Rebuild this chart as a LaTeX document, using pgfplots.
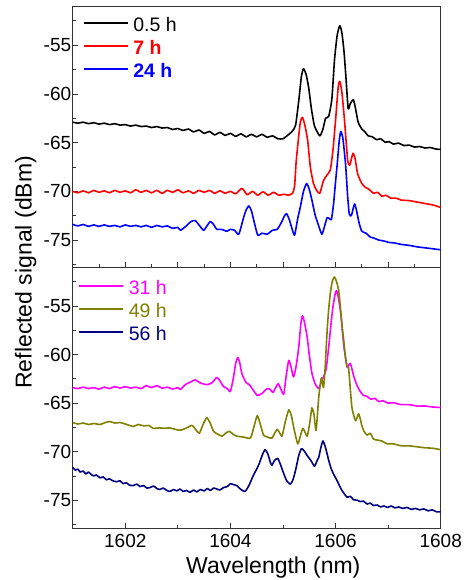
\documentclass[border=0pt]{standalone}
\usepackage{fontspec}
\setmainfont{Liberation Sans}
\usepackage{pgfplots}
\pgfplotsset{compat=1.18}
\definecolor{c31}{RGB}{255,0,255}
\definecolor{c49}{RGB}{128,128,0}
\definecolor{c56}{RGB}{0,0,128}

\pgfplotsset{
  panel/.style={
    scale only axis, width=368pt, height=261pt,
    xmin=1601, xmax=1608,
    axis line style={line width=0.9pt, black!80},
    every tick/.style={line width=0.8pt, black!80},
    tick align=inside,
    xtick pos=bottom, ytick pos=left,
    major tick length=5pt, minor tick length=3pt,
    ytick={-75,-70,-65,-60,-55},
    yticklabels={-75,-70,-65,-60,-55},
    minor ytick={-77.5,-72.5,...,-52.5},
    ticklabel style={font=\fontsize{19}{22}\selectfont},
    yticklabel style={xshift=2pt},
    xticklabel style={yshift=-2pt},
    legend cell align=left,
    legend style={at={(rel axis cs:0,1)}, anchor=north west, draw=none, fill=none,
      font=\fontsize{19.5}{22}\selectfont, row sep=5pt,
      nodes={inner sep=0pt, text height=14pt, text depth=4pt},
      /tikz/every odd column/.append style={column sep=5pt}},
    legend image code/.code={\draw[##1, line width=1.5pt, sharp plot] (0pt,3.5pt) -- (44pt,3.5pt);},
    every axis plot/.append style={line width=1.6pt, line join=round, smooth, tension=0.35},
  }
}

\begin{document}
\begin{tikzpicture}
\useasboundingbox (-72.7pt,-51.7pt) rectangle (390.3pt,528.3pt);

% upper panel: 0.5 h, 7 h, 24 h
\begin{axis}[panel, name=top, at={(0pt,261pt)}, anchor=south west,
  ymin=-77.8, ymax=-51,
  xtick={1601,...,1608}, minor xtick={1601.5,1602.5,...,1607.5}, xticklabels={},
  legend style={xshift=7pt, yshift=-9pt}]
\addplot[black] coordinates {
(1601.00,-62.9) (1601.10,-63.0) (1601.20,-62.9) (1601.30,-63.05) (1601.40,-62.95)
(1601.50,-63.1) (1601.60,-63.0) (1601.70,-63.15) (1601.80,-63.05) (1601.90,-63.2)
(1602.00,-63.15) (1602.10,-63.3) (1602.20,-63.2) (1602.30,-63.35) (1602.40,-63.3)
(1602.50,-63.45) (1602.60,-63.35) (1602.70,-63.5) (1602.80,-63.45) (1602.90,-63.65)
(1603.00,-63.55) (1603.10,-63.75) (1603.20,-63.6) (1603.30,-63.9) (1603.40,-63.7)
(1603.50,-64.05) (1603.60,-63.85) (1603.70,-64.2) (1603.80,-63.95) (1603.90,-64.25)
(1604.00,-64.05) (1604.10,-64.35) (1604.20,-64.1) (1604.30,-64.4) (1604.40,-64.15)
(1604.50,-64.4) (1604.60,-64.15) (1604.70,-64.45) (1604.80,-64.3) (1604.90,-64.6)
(1605.00,-64.6) (1605.10,-64.2) (1605.18,-63.8) (1605.24,-63.2) (1605.30,-60.7)
(1605.35,-58.2) (1605.39,-57.4) (1605.44,-58.0) (1605.49,-59.4) (1605.54,-61.5)
(1605.60,-63.3) (1605.70,-64.3) (1605.76,-63.6) (1605.81,-62.5) (1605.87,-62.3)
(1605.93,-60.5) (1605.98,-56.5) (1606.03,-54.0) (1606.08,-53.0) (1606.12,-53.7)
(1606.16,-55.6) (1606.20,-58.5) (1606.24,-61.5) (1606.28,-61.0) (1606.34,-60.6)
(1606.38,-61.5) (1606.43,-62.9) (1606.50,-63.6) (1606.56,-63.9) (1606.62,-64.3)
(1606.70,-64.4) (1606.78,-64.7) (1606.86,-64.6) (1606.94,-64.95) (1607.02,-64.9)
(1607.10,-65.15) (1607.20,-65.05) (1607.30,-65.3) (1607.40,-65.25) (1607.50,-65.45)
(1607.60,-65.4) (1607.70,-65.55) (1607.80,-65.5) (1607.90,-65.65) (1608.00,-65.7)
};
\addlegendentry{0.5 h}
\addplot[red] coordinates {
(1601.00,-70.0) (1601.10,-70.15) (1601.20,-69.95) (1601.30,-70.15) (1601.40,-69.9)
(1601.50,-70.1) (1601.60,-69.95) (1601.70,-70.15) (1601.80,-69.9) (1601.90,-70.1)
(1602.00,-69.95) (1602.10,-70.15) (1602.20,-69.85) (1602.30,-70.1) (1602.40,-69.9)
(1602.50,-70.15) (1602.60,-69.9) (1602.70,-70.2) (1602.80,-69.9) (1602.90,-70.1)
(1603.00,-69.85) (1603.10,-70.15) (1603.20,-69.95) (1603.30,-70.2) (1603.40,-69.9)
(1603.50,-70.1) (1603.60,-69.9) (1603.70,-70.2) (1603.80,-69.95) (1603.90,-70.2)
(1604.00,-70.0) (1604.10,-70.25) (1604.22,-69.7) (1604.32,-70.35) (1604.42,-70.0)
(1604.52,-70.4) (1604.62,-70.05) (1604.72,-70.4) (1604.82,-70.1) (1604.92,-70.4)
(1605.02,-70.3) (1605.10,-70.4) (1605.18,-70.2) (1605.22,-69.5) (1605.25,-67.0)
(1605.29,-64.8) (1605.33,-62.9) (1605.37,-62.4) (1605.42,-63.3) (1605.47,-64.8)
(1605.52,-67.5) (1605.58,-69.2) (1605.64,-69.9) (1605.70,-70.2) (1605.77,-68.9)
(1605.84,-68.3) (1605.90,-67.8) (1605.95,-65.8) (1606.00,-62.7) (1606.05,-59.3)
(1606.08,-58.7) (1606.12,-59.8) (1606.17,-62.7) (1606.23,-66.8) (1606.27,-67.3)
(1606.33,-66.1) (1606.37,-66.6) (1606.42,-68.2) (1606.50,-69.2) (1606.57,-69.6)
(1606.64,-69.8) (1606.72,-70.2) (1606.80,-70.1) (1606.88,-70.5) (1606.96,-70.4)
(1607.05,-70.7) (1607.15,-70.7) (1607.25,-70.9) (1607.40,-70.95) (1607.55,-71.1)
(1607.70,-71.25) (1607.85,-71.4) (1608.00,-71.65)
};
\addlegendentry{\textcolor{red}{\textbf{7 h}}}
\addplot[blue] coordinates {
(1601.00,-73.4) (1601.10,-73.55) (1601.20,-73.4) (1601.30,-73.6) (1601.40,-73.45)
(1601.50,-73.6) (1601.60,-73.45) (1601.70,-73.6) (1601.80,-73.5) (1601.90,-73.65)
(1602.00,-73.45) (1602.10,-73.6) (1602.20,-73.5) (1602.30,-73.65) (1602.40,-73.5)
(1602.50,-73.7) (1602.60,-73.5) (1602.70,-73.65) (1602.80,-73.55) (1602.90,-73.8)
(1603.00,-73.7) (1603.05,-74.0) (1603.15,-73.6) (1603.25,-73.1) (1603.33,-73.0)
(1603.41,-73.5) (1603.49,-74.0) (1603.56,-73.5) (1603.62,-73.1) (1603.68,-73.4)
(1603.74,-73.9) (1603.83,-73.9) (1603.93,-74.1) (1604.00,-73.9) (1604.08,-74.0)
(1604.16,-74.4) (1604.25,-72.7) (1604.30,-71.9) (1604.35,-71.5) (1604.40,-72.0)
(1604.45,-73.1) (1604.52,-74.5) (1604.60,-74.3) (1604.70,-74.4) (1604.80,-74.0)
(1604.89,-73.9) (1604.97,-73.2) (1605.03,-72.5) (1605.07,-72.3) (1605.12,-72.9)
(1605.17,-73.8) (1605.22,-74.5) (1605.28,-72.8) (1605.33,-71.6) (1605.39,-70.0)
(1605.45,-69.2) (1605.50,-69.8) (1605.55,-70.9) (1605.61,-72.4) (1605.67,-73.4)
(1605.74,-74.4) (1605.80,-73.4) (1605.84,-72.7) (1605.88,-72.8) (1605.92,-72.9)
(1605.96,-71.4) (1606.00,-69.0) (1606.03,-67.3) (1606.07,-64.8) (1606.10,-63.85)
(1606.14,-64.6) (1606.19,-67.2) (1606.23,-70.5) (1606.26,-72.3) (1606.30,-72.5)
(1606.36,-71.3) (1606.40,-72.0) (1606.45,-73.3) (1606.50,-74.1) (1606.58,-74.3)
(1606.66,-74.7) (1606.73,-74.8) (1606.82,-75.0) (1606.92,-75.1) (1607.02,-75.25)
(1607.12,-75.3) (1607.25,-75.45) (1607.40,-75.55) (1607.55,-75.7) (1607.70,-75.8)
(1607.85,-75.9) (1608.00,-76.0)
};
\addlegendentry{\textcolor{blue}{\textbf{24 h}}}
\end{axis}

% lower panel: 31 h, 49 h, 56 h
\begin{axis}[panel, name=bot, at={(0pt,0pt)}, anchor=south west,
  ymin=-77.9, ymax=-51,
  xtick={1602,1604,1606,1608}, xticklabels={1602,1604,1606,1608},
  minor xtick={1601,1603,1605,1607},
  legend style={xshift=2.5pt, yshift=-11pt}]
\addplot[c31] coordinates {
(1601.00,-63.4) (1601.10,-63.5) (1601.20,-63.35) (1601.30,-63.5) (1601.40,-63.4)
(1601.50,-63.55) (1601.60,-63.35) (1601.70,-63.5) (1601.80,-63.3) (1601.90,-63.45)
(1602.00,-63.3) (1602.10,-63.45) (1602.20,-63.35) (1602.30,-63.5) (1602.40,-63.2)
(1602.50,-63.4) (1602.60,-63.2) (1602.70,-63.45) (1602.80,-63.35) (1602.90,-63.55)
(1603.00,-63.4) (1603.05,-63.6) (1603.14,-63.1) (1603.25,-62.8) (1603.33,-62.6)
(1603.42,-62.9) (1603.55,-63.1) (1603.65,-62.9) (1603.74,-62.35) (1603.80,-62.7)
(1603.87,-63.3) (1603.94,-63.5) (1604.00,-63.8) (1604.06,-62.3) (1604.10,-60.9)
(1604.14,-60.3) (1604.18,-60.9) (1604.22,-62.0) (1604.30,-62.9) (1604.36,-63.1)
(1604.44,-63.7) (1604.51,-64.2) (1604.60,-64.0) (1604.70,-63.5) (1604.76,-63.6)
(1604.81,-63.9) (1604.91,-63.0) (1605.01,-64.1) (1605.06,-62.2) (1605.11,-60.6)
(1605.15,-61.2) (1605.20,-62.3) (1605.25,-61.2) (1605.30,-59.2) (1605.34,-56.8)
(1605.37,-56.0) (1605.41,-56.7) (1605.46,-58.2) (1605.50,-60.0) (1605.55,-61.9)
(1605.61,-63.0) (1605.68,-63.5) (1605.73,-62.8) (1605.77,-62.3) (1605.82,-61.5)
(1605.87,-59.2) (1605.91,-57.0) (1605.95,-55.1) (1605.99,-53.8) (1606.02,-53.4)
(1606.06,-54.3) (1606.10,-55.8) (1606.13,-57.6) (1606.16,-59.2) (1606.22,-61.3)
(1606.28,-60.9) (1606.35,-62.3) (1606.41,-63.2) (1606.47,-63.8) (1606.53,-64.2)
(1606.60,-64.3) (1606.67,-64.6) (1606.75,-64.5) (1606.82,-64.85) (1606.90,-64.75)
(1607.00,-65.0) (1607.10,-64.95) (1607.24,-65.15) (1607.40,-65.15) (1607.55,-65.3)
(1607.70,-65.3) (1607.85,-65.4) (1608.00,-65.45)
};
\addlegendentry{\textcolor{c31}{31 h}}
\addplot[c49] coordinates {
(1601.00,-67.0) (1601.10,-67.15) (1601.20,-67.05) (1601.30,-67.2) (1601.40,-67.1)
(1601.52,-67.2) (1601.62,-67.0) (1601.71,-66.9) (1601.80,-67.05) (1601.90,-67.0)
(1602.00,-67.15) (1602.15,-67.4) (1602.25,-67.2) (1602.35,-67.35) (1602.45,-67.3)
(1602.53,-67.6) (1602.65,-67.55) (1602.75,-67.6) (1602.85,-67.55) (1602.95,-67.7)
(1603.04,-67.8) (1603.15,-67.6) (1603.27,-67.3) (1603.35,-67.8) (1603.41,-68.1)
(1603.48,-67.2) (1603.55,-66.5) (1603.61,-67.0) (1603.68,-67.9) (1603.76,-68.2)
(1603.84,-68.4) (1603.91,-68.1) (1603.98,-67.9) (1604.05,-68.2) (1604.12,-68.4)
(1604.25,-68.5) (1604.38,-68.6) (1604.44,-67.6) (1604.51,-66.3) (1604.57,-67.2)
(1604.63,-68.3) (1604.71,-68.5) (1604.79,-68.6) (1604.89,-67.7) (1604.98,-68.4)
(1605.04,-67.0) (1605.11,-65.7) (1605.16,-66.3) (1605.20,-67.4) (1605.28,-69.2)
(1605.33,-68.4) (1605.38,-67.6) (1605.46,-68.4) (1605.51,-67.0) (1605.55,-65.5)
(1605.59,-66.2) (1605.63,-67.8) (1605.68,-64.4) (1605.73,-62.4) (1605.77,-63.4)
(1605.80,-61.5) (1605.84,-57.5) (1605.87,-55.3) (1605.90,-53.7) (1605.94,-52.4)
(1605.98,-52.0) (1606.02,-52.5) (1606.06,-53.4) (1606.09,-55.0) (1606.12,-56.8)
(1606.16,-58.8) (1606.19,-60.3) (1606.22,-61.2) (1606.25,-61.5) (1606.31,-65.4)
(1606.38,-66.8) (1606.44,-66.1) (1606.50,-67.3) (1606.54,-67.9) (1606.60,-68.3)
(1606.66,-68.1) (1606.72,-68.7) (1606.79,-68.8) (1606.88,-68.9) (1606.98,-69.2)
(1607.10,-69.2) (1607.25,-69.4) (1607.40,-69.4) (1607.55,-69.5) (1607.70,-69.6)
(1607.85,-69.65) (1608.00,-69.8)
};
\addlegendentry{\textcolor{c49}{49 h}}
\addplot[c56] coordinates {
(1601.00,-71.6) (1601.05,-71.9) (1601.10,-71.8) (1601.14,-72.1) (1601.20,-72.0)
(1601.25,-72.3) (1601.30,-72.1) (1601.35,-72.35) (1601.40,-72.5) (1601.45,-72.4)
(1601.52,-72.7) (1601.58,-72.6) (1601.64,-72.9) (1601.70,-72.8) (1601.76,-73.0)
(1601.84,-73.1) (1601.90,-73.0) (1601.96,-73.3) (1602.02,-73.2) (1602.08,-73.45)
(1602.15,-73.5) (1602.22,-73.35) (1602.28,-73.6) (1602.35,-73.5) (1602.41,-73.75)
(1602.47,-73.7) (1602.54,-73.55) (1602.60,-73.8) (1602.66,-73.9) (1602.72,-73.75)
(1602.79,-74.0) (1602.85,-74.1) (1602.92,-73.9) (1602.98,-74.05) (1603.04,-73.85)
(1603.10,-74.1) (1603.17,-74.0) (1603.23,-74.2) (1603.30,-73.95) (1603.36,-74.15)
(1603.43,-73.9) (1603.50,-74.05) (1603.56,-73.8) (1603.62,-74.0) (1603.68,-73.75)
(1603.74,-73.85) (1603.80,-73.95) (1603.87,-73.7) (1603.94,-73.6) (1604.00,-73.3)
(1604.06,-73.4) (1604.12,-73.5) (1604.20,-73.9) (1604.28,-74.1) (1604.36,-73.4)
(1604.44,-72.4) (1604.50,-71.8) (1604.55,-71.2) (1604.61,-70.3) (1604.66,-69.8)
(1604.71,-70.2) (1604.76,-71.1) (1604.79,-71.4) (1604.84,-70.9) (1604.90,-70.7)
(1604.95,-71.3) (1605.01,-72.2) (1605.07,-73.0) (1605.14,-73.35) (1605.19,-72.9)
(1605.24,-71.9) (1605.30,-70.4) (1605.35,-69.7) (1605.40,-69.9) (1605.46,-70.4)
(1605.53,-70.9) (1605.60,-71.5) (1605.65,-70.9) (1605.68,-70.6) (1605.72,-69.6)
(1605.76,-68.9) (1605.81,-69.6) (1605.87,-70.9) (1605.92,-71.8) (1605.97,-72.4)
(1606.03,-73.0) (1606.10,-73.8) (1606.16,-74.3) (1606.22,-74.7) (1606.28,-74.6)
(1606.34,-74.95) (1606.41,-75.0) (1606.47,-75.15) (1606.53,-75.1) (1606.60,-75.4)
(1606.66,-75.3) (1606.72,-75.55) (1606.79,-75.5) (1606.86,-75.7) (1606.92,-75.6)
(1606.99,-75.75) (1607.06,-75.6) (1607.13,-75.8) (1607.20,-75.7) (1607.28,-75.85)
(1607.36,-75.75) (1607.44,-75.95) (1607.52,-75.85) (1607.60,-76.0) (1607.68,-75.9)
(1607.76,-76.1) (1607.84,-76.0) (1607.92,-76.2) (1608.00,-76.2)
};
\addlegendentry{\textcolor{c56}{56 h}}
\end{axis}

\node[anchor=base, font=\fontsize{23}{26}\selectfont]
  at ([xshift=16.6pt, yshift=-45pt]bot.south) {Wavelength (nm)};
\node[rotate=90, anchor=base, font=\fontsize{23}{26}\selectfont]
  at ([xshift=-41pt, yshift=-5pt]bot.north west) {Reflected signal (dBm)};
\end{tikzpicture}
\end{document}
